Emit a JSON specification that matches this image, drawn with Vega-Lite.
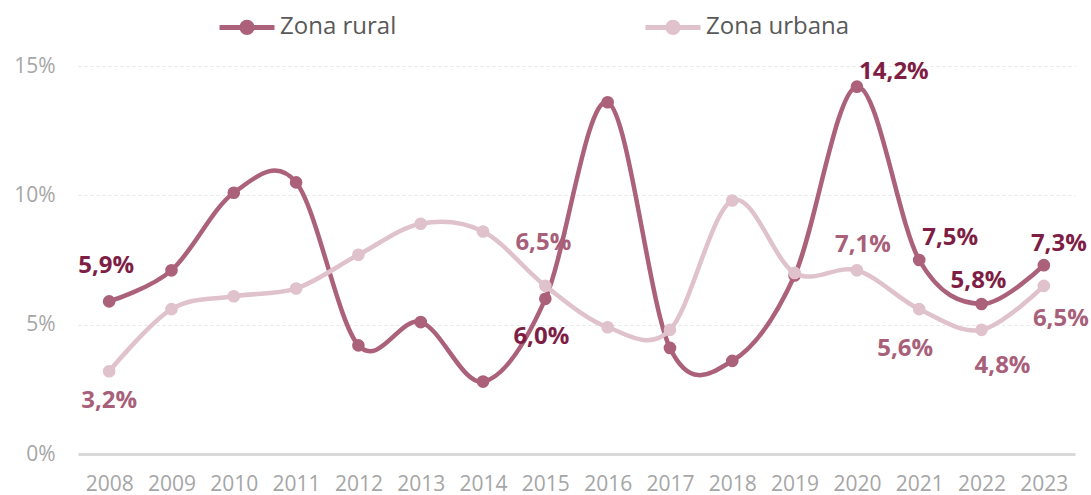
{
  "$schema": "https://vega.github.io/schema/vega-lite/v6.json",
  "width": 997,
  "height": 388,
  "autosize": {"type": "none"},
  "padding": {"left": 78, "top": 66, "right": 16, "bottom": 41},
  "background": "white",
  "config": {
    "locale": {"number": {"decimal": ",", "thousands": ".", "grouping": [3], "currency": ["", " €"]}},
    "view": {"stroke": null},
    "font": "Open Sans"
  },
  "data": {
    "values": [
      {"year": "2008", "series": "Zona rural", "value": 0.059},
      {"year": "2009", "series": "Zona rural", "value": 0.071},
      {"year": "2010", "series": "Zona rural", "value": 0.101},
      {"year": "2011", "series": "Zona rural", "value": 0.105},
      {"year": "2012", "series": "Zona rural", "value": 0.042},
      {"year": "2013", "series": "Zona rural", "value": 0.051},
      {"year": "2014", "series": "Zona rural", "value": 0.028},
      {"year": "2015", "series": "Zona rural", "value": 0.060},
      {"year": "2016", "series": "Zona rural", "value": 0.136},
      {"year": "2017", "series": "Zona rural", "value": 0.041},
      {"year": "2018", "series": "Zona rural", "value": 0.036},
      {"year": "2019", "series": "Zona rural", "value": 0.069},
      {"year": "2020", "series": "Zona rural", "value": 0.142},
      {"year": "2021", "series": "Zona rural", "value": 0.075},
      {"year": "2022", "series": "Zona rural", "value": 0.058},
      {"year": "2023", "series": "Zona rural", "value": 0.073},
      {"year": "2008", "series": "Zona urbana", "value": 0.032},
      {"year": "2009", "series": "Zona urbana", "value": 0.056},
      {"year": "2010", "series": "Zona urbana", "value": 0.061},
      {"year": "2011", "series": "Zona urbana", "value": 0.064},
      {"year": "2012", "series": "Zona urbana", "value": 0.077},
      {"year": "2013", "series": "Zona urbana", "value": 0.089},
      {"year": "2014", "series": "Zona urbana", "value": 0.086},
      {"year": "2015", "series": "Zona urbana", "value": 0.065},
      {"year": "2016", "series": "Zona urbana", "value": 0.049},
      {"year": "2017", "series": "Zona urbana", "value": 0.048},
      {"year": "2018", "series": "Zona urbana", "value": 0.098},
      {"year": "2019", "series": "Zona urbana", "value": 0.070},
      {"year": "2020", "series": "Zona urbana", "value": 0.071},
      {"year": "2021", "series": "Zona urbana", "value": 0.056},
      {"year": "2022", "series": "Zona urbana", "value": 0.048},
      {"year": "2023", "series": "Zona urbana", "value": 0.065}
    ]
  },
  "encoding": {
    "x": {
      "field": "year", "type": "ordinal",
      "scale": {"padding": 0.5},
      "axis": {
        "title": null, "labelAngle": 0, "ticks": false, "grid": false,
        "domain": true, "domainColor": "#D9D9D9", "domainWidth": 3,
        "labelFontSize": 21, "labelColor": "#A6A6A6", "labelPadding": 19,
        "labelFont": "Open Sans"
      }
    },
    "y": {
      "field": "value", "type": "quantitative",
      "scale": {"domain": [0, 0.15], "nice": false},
      "axis": {
        "title": null, "values": [0, 0.05, 0.1, 0.15], "format": ".0%",
        "domain": false, "ticks": false, "grid": true,
        "gridColor": "#E6E6E6", "gridDash": [3, 3], "gridWidth": 1,
        "labelFontSize": 21, "labelColor": "#A6A6A6", "labelPadding": 23,
        "labelFont": "Open Sans"
      }
    }
  },
  "layer": [
    {
      "transform": [{"filter": "datum.series == 'Zona rural'"}],
      "mark": {"type": "line", "interpolate": "cardinal", "strokeWidth": 4.5},
      "encoding": {
        "color": {
          "field": "series", "type": "nominal",
          "scale": {"domain": ["Zona rural", "Zona urbana"], "range": ["#AB6179", "#DFC2CB"]},
          "legend": {
            "title": null, "orient": "none", "direction": "horizontal",
            "legendX": 139, "legendY": -69,
            "symbolType": "M-1,0L1,0M0.19,0A0.19,0.19,0,1,1,-0.19,0A0.19,0.19,0,1,1,0.19,0Z",
            "symbolSize": 3025, "symbolStrokeWidth": 5,
            "labelFontSize": 24, "labelColor": "#595959", "labelFont": "Open Sans",
            "labelOffset": 3, "columnPadding": 238,
            "encode": {
              "symbols": {
                "update": {
                  "fill": {"scale": "color", "field": "value"},
                  "stroke": {"scale": "color", "field": "value"},
                  "fillOpacity": {"value": 1}
                }
              }
            }
          }
        }
      }
    },
    {
      "transform": [{"filter": "datum.series == 'Zona rural'"}],
      "mark": {"type": "circle", "size": 160, "opacity": 1},
      "encoding": {"color": {"field": "series", "type": "nominal"}}
    },
    {
      "transform": [{"filter": "datum.series == 'Zona urbana'"}],
      "mark": {"type": "line", "interpolate": "cardinal", "strokeWidth": 4.5},
      "encoding": {"color": {"field": "series", "type": "nominal"}}
    },
    {
      "transform": [{"filter": "datum.series == 'Zona urbana'"}],
      "mark": {"type": "circle", "size": 160, "opacity": 1},
      "encoding": {"color": {"field": "series", "type": "nominal"}}
    },
    {
      "transform": [{"filter": "datum.series == 'Zona rural' && datum.year == '2008'"}],
      "mark": {"type": "text", "fontSize": 24, "fontWeight": "bold", "color": "#7E1E45", "baseline": "middle", "dx": -3, "dy": -35},
      "encoding": {"text": {"field": "value", "type": "quantitative", "format": ".1%"}}
    },
    {
      "transform": [{"filter": "datum.series == 'Zona rural' && datum.year == '2015'"}],
      "mark": {"type": "text", "fontSize": 24, "fontWeight": "bold", "color": "#7E1E45", "baseline": "middle", "dx": -4, "dy": 38},
      "encoding": {"text": {"field": "value", "type": "quantitative", "format": ".1%"}}
    },
    {
      "transform": [{"filter": "datum.series == 'Zona rural' && datum.year == '2020'"}],
      "mark": {"type": "text", "fontSize": 24, "fontWeight": "bold", "color": "#7E1E45", "baseline": "middle", "dx": 37, "dy": -15},
      "encoding": {"text": {"field": "value", "type": "quantitative", "format": ".1%"}}
    },
    {
      "transform": [{"filter": "datum.series == 'Zona rural' && datum.year == '2021'"}],
      "mark": {"type": "text", "fontSize": 24, "fontWeight": "bold", "color": "#7E1E45", "baseline": "middle", "dx": 31, "dy": -22},
      "encoding": {"text": {"field": "value", "type": "quantitative", "format": ".1%"}}
    },
    {
      "transform": [{"filter": "datum.series == 'Zona rural' && datum.year == '2022'"}],
      "mark": {"type": "text", "fontSize": 24, "fontWeight": "bold", "color": "#7E1E45", "baseline": "middle", "dx": -3, "dy": -23},
      "encoding": {"text": {"field": "value", "type": "quantitative", "format": ".1%"}}
    },
    {
      "transform": [{"filter": "datum.series == 'Zona rural' && datum.year == '2023'"}],
      "mark": {"type": "text", "fontSize": 24, "fontWeight": "bold", "color": "#7E1E45", "baseline": "middle", "dx": 15, "dy": -21},
      "encoding": {"text": {"field": "value", "type": "quantitative", "format": ".1%"}}
    },
    {
      "transform": [{"filter": "datum.series == 'Zona urbana' && datum.year == '2008'"}],
      "mark": {"type": "text", "fontSize": 24, "fontWeight": "bold", "color": "#A8607A", "baseline": "middle", "dx": 0, "dy": 30},
      "encoding": {"text": {"field": "value", "type": "quantitative", "format": ".1%"}}
    },
    {
      "transform": [{"filter": "datum.series == 'Zona urbana' && datum.year == '2015'"}],
      "mark": {"type": "text", "fontSize": 24, "fontWeight": "bold", "color": "#A8607A", "baseline": "middle", "dx": -2, "dy": -43},
      "encoding": {"text": {"field": "value", "type": "quantitative", "format": ".1%"}}
    },
    {
      "transform": [{"filter": "datum.series == 'Zona urbana' && datum.year == '2020'"}],
      "mark": {"type": "text", "fontSize": 24, "fontWeight": "bold", "color": "#A8607A", "baseline": "middle", "dx": 6, "dy": -25},
      "encoding": {"text": {"field": "value", "type": "quantitative", "format": ".1%"}}
    },
    {
      "transform": [{"filter": "datum.series == 'Zona urbana' && datum.year == '2021'"}],
      "mark": {"type": "text", "fontSize": 24, "fontWeight": "bold", "color": "#A8607A", "baseline": "middle", "dx": -14, "dy": 40},
      "encoding": {"text": {"field": "value", "type": "quantitative", "format": ".1%"}}
    },
    {
      "transform": [{"filter": "datum.series == 'Zona urbana' && datum.year == '2022'"}],
      "mark": {"type": "text", "fontSize": 24, "fontWeight": "bold", "color": "#A8607A", "baseline": "middle", "dx": 21, "dy": 36},
      "encoding": {"text": {"field": "value", "type": "quantitative", "format": ".1%"}}
    },
    {
      "transform": [{"filter": "datum.series == 'Zona urbana' && datum.year == '2023'"}],
      "mark": {"type": "text", "fontSize": 24, "fontWeight": "bold", "color": "#A8607A", "baseline": "middle", "dx": 17, "dy": 33},
      "encoding": {"text": {"field": "value", "type": "quantitative", "format": ".1%"}}
    }
  ]
}
